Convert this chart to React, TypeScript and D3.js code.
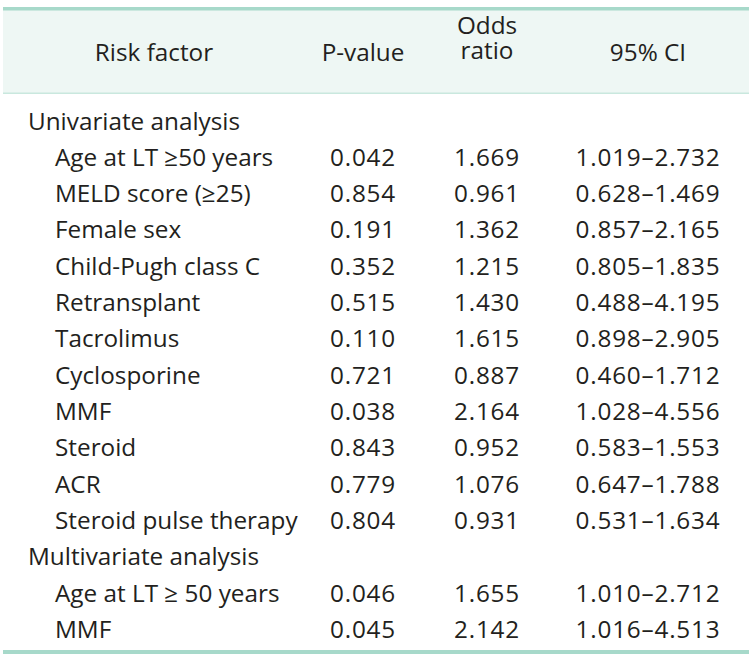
import React from "react";
import * as d3 from "d3";

const headers = ["Risk factor", "P-value", "Odds\nratio", "95% CI"];
const groups = ["Univariate analysis", "Multivariate analysis"];
const uniFactors = [
  "Age at LT \u226550 years",
  "MELD score (\u226525)",
  "Female sex",
  "Child-Pugh class C",
  "Retransplant",
  "Tacrolimus",
  "Cyclosporine",
  "MMF",
  "Steroid",
  "ACR",
  "Steroid pulse therapy",
];
const uniP = ["0.042", "0.854", "0.191", "0.352", "0.515", "0.110", "0.721", "0.038", "0.843", "0.779", "0.804"];
const uniOR = ["1.669", "0.961", "1.362", "1.215", "1.430", "1.615", "0.887", "2.164", "0.952", "1.076", "0.931"];
const uniCI = [
  "1.019\u20132.732",
  "0.628\u20131.469",
  "0.857\u20132.165",
  "0.805\u20131.835",
  "0.488\u20134.195",
  "0.898\u20132.905",
  "0.460\u20131.712",
  "1.028\u20134.556",
  "0.583\u20131.553",
  "0.647\u20131.788",
  "0.531\u20131.634",
];
const multiFactors = ["Age at LT \u2265 50 years", "MMF"];
const multiP = ["0.046", "0.045"];
const multiOR = ["1.655", "2.142"];
const multiCI = ["1.010\u20132.712", "1.016\u20134.513"];

type Row = { kind: "group" | "item"; label: string; p?: string; or?: string; ci?: string };

const rows: Row[] = [
  { kind: "group", label: groups[0] },
  ...uniFactors.map((f, i) => ({ kind: "item" as const, label: f, p: uniP[i], or: uniOR[i], ci: uniCI[i] })),
  { kind: "group", label: groups[1] },
  ...multiFactors.map((f, i) => ({ kind: "item" as const, label: f, p: multiP[i], or: multiOR[i], ci: multiCI[i] })),
];

const W = 756;
const H = 660;
const FONT = "'Open Sans', sans-serif";
const TEXT = "#231f20";
const FS = 24.3;
const NUM_LS = 0.8;

export default function App() {
  const y = d3.scaleLinear().domain([0, rows.length - 1]).range([129.5, 638]);
  const colX = d3.scaleOrdinal<string, number>().domain(["risk", "p", "or", "ci"]).range([154, 363, 487, 648]);
  const left = 3;
  const right = 749;

  return (
    <svg
      width={W}
      height={H}
      style={{ position: "absolute", left: 0, top: 0, background: "#fff" }}
      fontFamily={FONT}
    >
      <rect x={left} y={9} width={right - left} height={84} fill="#eef7f4" />
      <rect x={left} y={7} width={right - left} height={3.5} fill="#a7d9ca" />
      <rect x={left} y={92.5} width={right - left} height={1.5} fill="#c9e8de" />
      <rect x={left} y={650} width={right - left} height={4} fill="#a7d9ca" />

      {headers.map((h, i) => {
        const key = ["risk", "p", "or", "ci"][i];
        const lines = h.split("\n");
        const baselines = lines.length === 1 ? [61] : [33.5, 59];
        return lines.map((ln, j) => (
          <text
            key={`${i}-${j}`}
            x={colX(key)}
            y={baselines[j]}
            textAnchor="middle"
            fontSize={FS}
            fill={TEXT}
          >
            {ln}
          </text>
        ));
      })}

      {rows.map((r, i) => (
        <g key={i} fontSize={FS} fill={TEXT}>
          <text x={r.kind === "group" ? 28 : 55} y={y(i)}>
            {r.label}
          </text>
          {r.kind === "item" && (
            <g letterSpacing={NUM_LS}>
              <text x={colX("p")} y={y(i)} textAnchor="middle">{r.p}</text>
              <text x={colX("or")} y={y(i)} textAnchor="middle">{r.or}</text>
              <text x={colX("ci")} y={y(i)} textAnchor="middle">{r.ci}</text>
            </g>
          )}
        </g>
      ))}
    </svg>
  );
}
